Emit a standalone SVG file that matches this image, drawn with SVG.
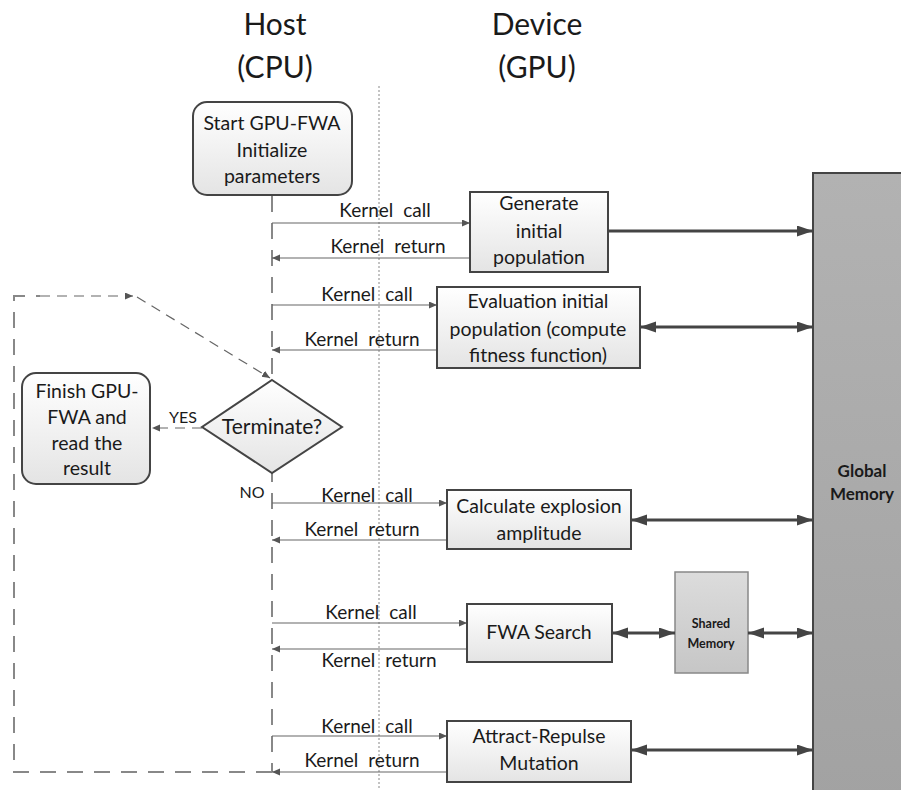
<svg xmlns="http://www.w3.org/2000/svg" width="901" height="790" viewBox="0 0 901 790">
<defs>
<linearGradient id="boxg" x1="0" y1="0" x2="0" y2="1"><stop offset="0" stop-color="#ffffff"/><stop offset="1" stop-color="#e4e4e4"/></linearGradient>
<linearGradient id="shg" x1="0" y1="0" x2="0" y2="1"><stop offset="0" stop-color="#dcdcdc"/><stop offset="1" stop-color="#c6c6c6"/></linearGradient>
<linearGradient id="glg" x1="0" y1="0" x2="0" y2="1"><stop offset="0" stop-color="#b2b2b2"/><stop offset="1" stop-color="#a2a2a2"/></linearGradient>
<marker id="sm" markerUnits="userSpaceOnUse" markerWidth="9" markerHeight="8" refX="8" refY="3.5" orient="auto-start-reverse"><path d="M0,0 L8,3.5 L0,7 z" fill="#555"/></marker>
<marker id="lg" markerUnits="userSpaceOnUse" markerWidth="17" markerHeight="12" refX="16" refY="5.5" orient="auto-start-reverse"><path d="M0,0 L16,5.5 L0,11 z" fill="#444"/></marker>
<style>
.t{font-family:Lato,"Liberation Sans",sans-serif;fill:#1a1a1a;text-anchor:middle}
.h{font-size:30px}
.b{font-size:19.5px}
.k{font-size:19px;word-spacing:5px}
.box{fill:url(#boxg);stroke:#444;stroke-width:2}
.kl{stroke:#666;stroke-width:1.2;fill:none;marker-end:url(#sm)}
.ml{stroke:#444;stroke-width:3;fill:none;marker-end:url(#lg)}
.mb{marker-start:url(#lg)}
.dash{stroke:#888;stroke-width:2;fill:none;stroke-dasharray:16 11}
.dthin{stroke:#666;stroke-width:1.2;fill:none;stroke-dasharray:10 7;marker-end:url(#sm)}
</style>
</defs>
<rect width="901" height="790" fill="#fff"/>
<g id="headings">
<text class="t h" x="275" y="35">Host</text>
<text class="t h" x="275" y="78">(CPU)</text>
<text class="t h" x="537" y="35">Device</text>
<text class="t h" x="537" y="78">(GPU)</text>
</g>
<g id="divider"><line x1="379" y1="86" x2="379" y2="790" stroke="#888" stroke-width="1" stroke-dasharray="2 2"/></g>
<g id="global-memory">
<rect x="813" y="173" width="100" height="630" fill="url(#glg)" stroke="#444" stroke-width="2"/>
<text class="t" x="862" y="477" font-size="17" font-weight="bold">Global</text>
<text class="t" x="862" y="500" font-size="17" font-weight="bold">Memory</text>
</g>
<g id="shared-memory">
<rect x="675" y="572" width="73" height="101" fill="url(#shg)" stroke="#888" stroke-width="1.5"/>
<text class="t" x="711" y="628" font-size="12.5" font-weight="bold">Shared</text>
<text class="t" x="711" y="648" font-size="12.5" font-weight="bold">Memory</text>
</g>
<g id="connectors">
<path class="dash" d="M272,196 V772"/>
<path class="dash" d="M272,772 H14 V296 H40"/>
<path class="dthin" d="M40,296 H133"/>
<path class="dthin" d="M137,297 L270,378"/>
<path class="dthin" d="M202,428 H152"/>
<path class="kl" d="M272,223 H470"/>
<path class="kl" d="M470,258 H272"/>
<path class="kl" d="M272,305 H437"/>
<path class="kl" d="M437,350 H272"/>
<path class="kl" d="M272,503 H447"/>
<path class="kl" d="M447,540 H272"/>
<path class="kl" d="M272,623 H467"/>
<path class="kl" d="M467,649 H272"/>
<path class="kl" d="M272,736 H447"/>
<path class="kl" d="M447,772 H272"/>
<path class="ml" d="M608,231 H813"/>
<path class="ml mb" d="M640,327 H813"/>
<path class="ml mb" d="M631,520 H813"/>
<path class="ml mb" d="M612,633 H675"/>
<path class="ml mb" d="M748,633 H813"/>
<path class="ml mb" d="M631,750 H813"/>
<text class="t k" x="385" y="217">Kernel call</text>
<text class="t k" x="388" y="253">Kernel return</text>
<text class="t k" x="367" y="301">Kernel call</text>
<text class="t k" x="362" y="346">Kernel return</text>
<text class="t k" x="367" y="502">Kernel call</text>
<text class="t k" x="362" y="536">Kernel return</text>
<text class="t k" x="371" y="619">Kernel call</text>
<text class="t k" x="379" y="667">Kernel return</text>
<text class="t k" x="367" y="733">Kernel call</text>
<text class="t k" x="362" y="767">Kernel return</text>
<text class="t" x="183" y="423" font-size="16">YES</text>
<text class="t" x="252" y="498" font-size="16">NO</text>
</g>
<g id="start">
<rect class="box" x="193" y="102" width="159" height="93" rx="14"/>
<text class="t b" x="272" y="130" font-size="19">Start GPU-FWA</text>
<text class="t b" x="272" y="157">Initialize</text>
<text class="t b" x="272" y="183">parameters</text>
</g>
<g id="generate">
<rect class="box" x="470" y="192" width="138" height="80"/>
<text class="t b" x="539" y="210">Generate</text>
<text class="t b" x="539" y="238">initial</text>
<text class="t b" x="539" y="264">population</text>
</g>
<g id="evaluation">
<rect class="box" x="437" y="287" width="203" height="81"/>
<text class="t b" x="538" y="308">Evaluation initial</text>
<text class="t b" x="538" y="336">population (compute</text>
<text class="t b" x="538" y="362">fitness function)</text>
</g>
<g id="terminate">
<path class="box" d="M272,380 L342,427 L272,473 L202,427 z"/>
<text class="t" x="272" y="434" font-size="21">Terminate?</text>
</g>
<g id="finish">
<rect class="box" x="22" y="373" width="128" height="111" rx="14"/>
<text class="t b" x="87" y="398">Finish GPU-</text>
<text class="t b" x="87" y="424">FWA and</text>
<text class="t b" x="87" y="450">read the</text>
<text class="t b" x="87" y="475">result</text>
</g>
<g id="calculate">
<rect class="box" x="447" y="490" width="184" height="59"/>
<text class="t b" x="539" y="513">Calculate explosion</text>
<text class="t b" x="539" y="540">amplitude</text>
</g>
<g id="fwa-search">
<rect class="box" x="467" y="604" width="145" height="58"/>
<text class="t b" x="539" y="639">FWA Search</text>
</g>
<g id="attract">
<rect class="box" x="447" y="721" width="184" height="61"/>
<text class="t b" x="539" y="743">Attract-Repulse</text>
<text class="t b" x="539" y="770">Mutation</text>
</g>
</svg>
